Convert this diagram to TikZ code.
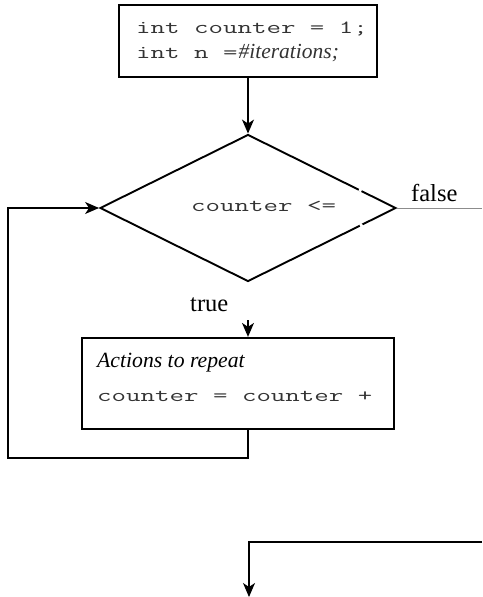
\documentclass[tikz,border=0pt]{standalone}
\usepackage{fontspec}
\usepackage{graphicx}
\setmainfont{Liberation Serif}
\newfontfamily\codefont{Latin Modern Mono}
\usetikzlibrary{arrows.meta,shapes.geometric}
% wide, thin fixed-pitch code text
\newcommand\widecode[1]{\scalebox{1.52}[1]{#1}}

\begin{document}
\begin{tikzpicture}[x=1pt,y=-1pt,
  tip/.style={-{Stealth[length=14pt,width=12pt,inset=4pt]}},
  flow/.style={line width=1.4pt, tip},
  boxed/.style={draw, rectangle, inner sep=0pt, line width=1.9pt},
  decision/.style={draw, diamond, inner sep=0pt, line width=1.9pt},
  code/.style={anchor=base west, inner sep=0pt, text=black!80,
    font=\codefont\fontsize{18.5}{22}\selectfont},
  label/.style={anchor=base west, inner sep=0pt, font=\fontsize{24.5}{28}\selectfont},
  note/.style={anchor=base west, inner sep=0pt, font=\itshape\fontsize{21.7}{26}\selectfont},
]
\useasboundingbox (0,0) rectangle (482,597);

% initialisation box
\node[boxed, minimum width=258pt, minimum height=72pt] (init) at (248,41) {};
\node[code] (init1) at (136,33) {\widecode{int counter = 1;}};
\node[code] (init2) at (136,58) {\widecode{int n =}\kern1pt{\rmfamily\itshape\fontsize{21.5}{26}\selectfont\#iterations;}};

% loop condition
\node[decision, minimum width=296pt, minimum height=147pt] (dec) at (248,208) {};
\node[code] (cond) at (191,211.5) {\widecode{counter <=}};
\draw[white, line width=3pt] (359,189.6) -- (361.5,190.8);
\draw[white, line width=3pt] (360,225.8) -- (362.5,224.6);

% false branch
\node[label] (false) at (411,201.5) {false};
\coordinate (exitR) at (482,208);
\draw[black!45, line width=1pt] (dec.east) -- (exitR);

% true branch and loop body
\node[label] (true) at (190,311.5) {true};
\coordinate (trueS) at (248,320);
\node[boxed, line width=2.2pt, minimum width=312pt, minimum height=91pt] (body) at (238,383.5) {};
\node[note] (act) at (97,367) {Actions to repeat};
\node[code] (incr) at (97,401) {\widecode{counter = counter +}};

% connectors
\draw[flow] (init.south) -- (dec.north);
\draw[flow] (trueS) -- (body.north -| dec.south);
\coordinate (loopL) at (8,458);
\draw[flow] (body.south -| dec.south) |- (loopL) |- (dec.west);

% loop exit
\coordinate (exitIn) at (482,542);
\coordinate (exitOut) at (249,597);
\draw[flow] (exitIn) -| (exitOut);
\end{tikzpicture}
\end{document}
